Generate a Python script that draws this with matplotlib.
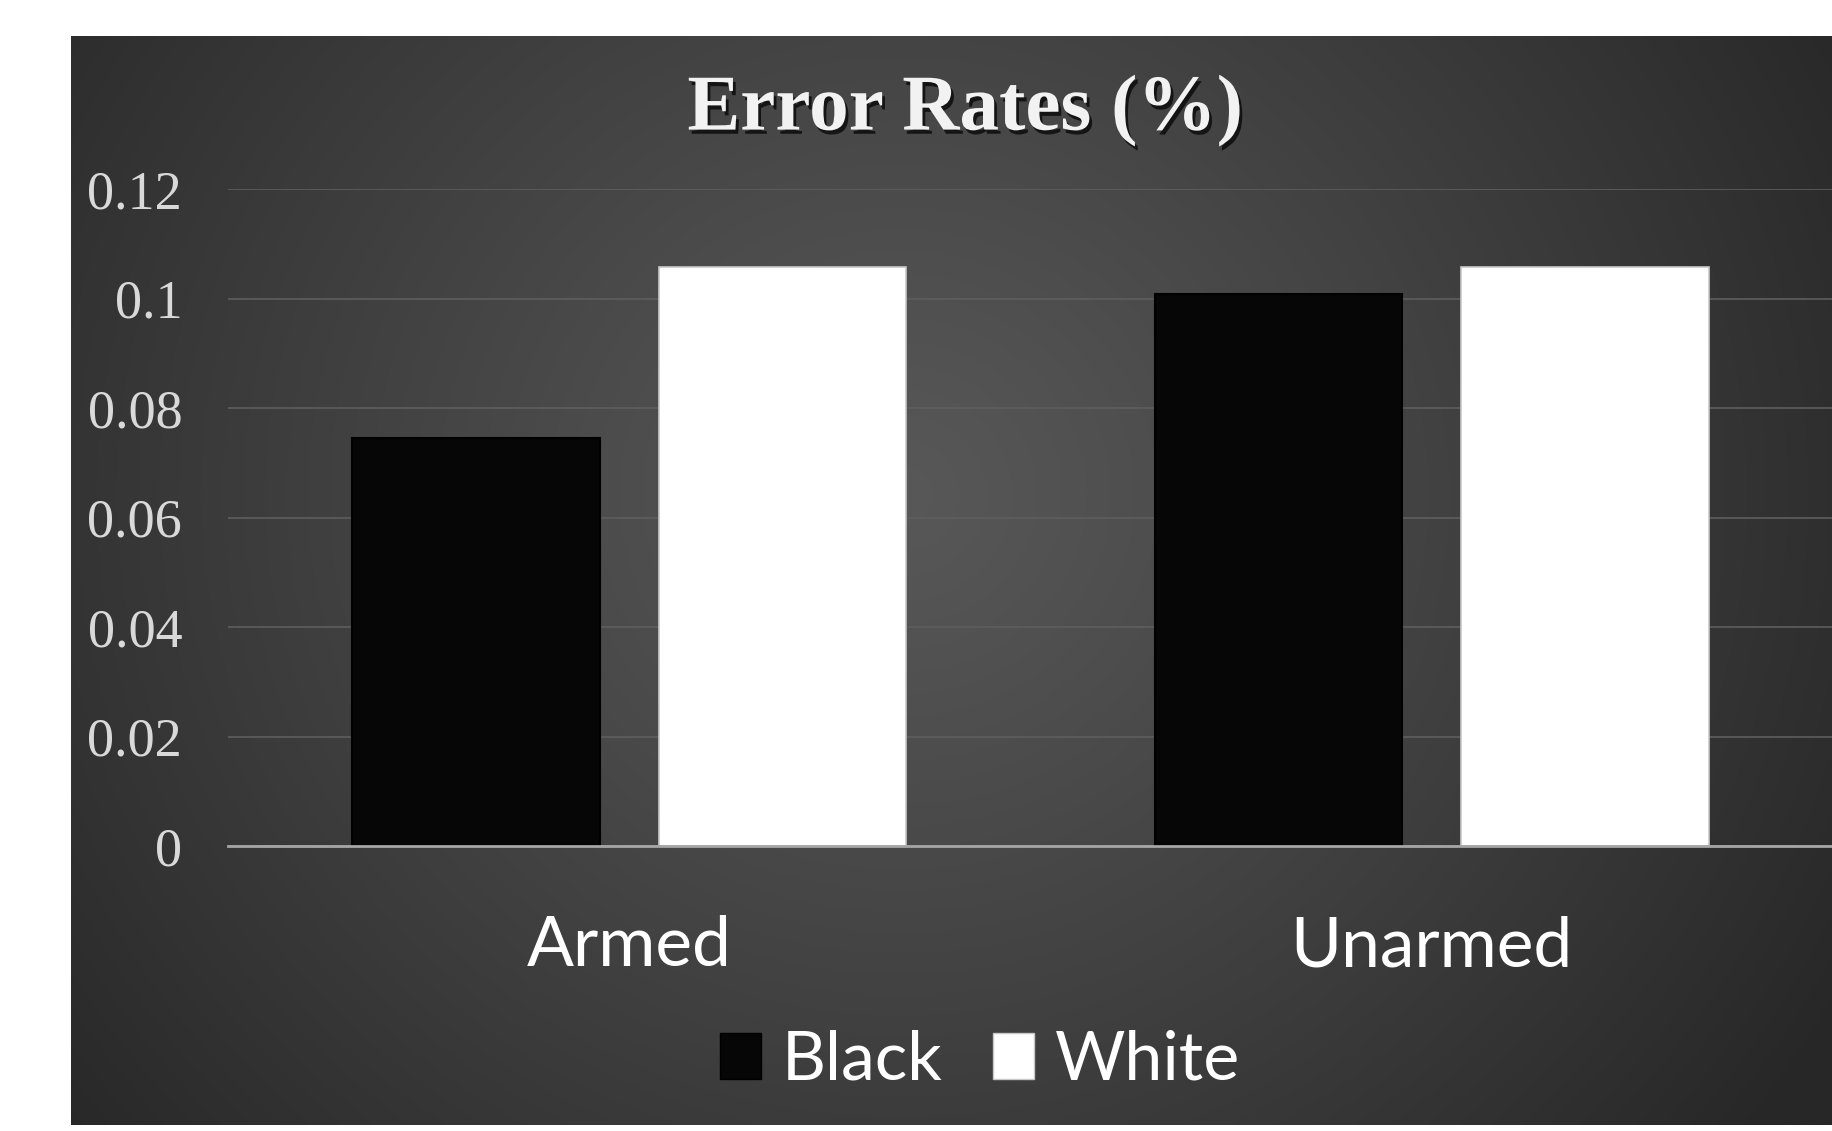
import numpy as np
import matplotlib
matplotlib.use("Agg")
import matplotlib.pyplot as plt
import matplotlib.patheffects as pe
from matplotlib.patches import Patch

# ---- data ----
categories = ["Armed", "Unarmed"]
series_names = ["Black", "White"]
black_values = [0.0745, 0.1008]
white_values = [0.1057, 0.1057]
yticks = [0, 0.02, 0.04, 0.06, 0.08, 0.1, 0.12]
ytick_labels = ["0", "0.02", "0.04", "0.06", "0.08", "0.1", "0.12"]
title = "Error Rates (%)"

W, H = 1832, 1131
fig = plt.figure(figsize=(W / 100, H / 100), dpi=100)
fig.patch.set_facecolor("white")

# ---- dark radial-gradient background panel ----
bx0, by0, bx1, by1 = 71, 36, 1832, 1125  # pixel box (top-origin)
bg = fig.add_axes([bx0 / W, (H - by1) / H, (bx1 - bx0) / W, (by1 - by0) / H])
bg.set_axis_off()
ny, nx = 300, 500
yy, xx = np.mgrid[0:ny, 0:nx]
cx, cy = nx * 0.47, ny * 0.42
d = np.sqrt(((xx - cx) / (nx * 0.62)) ** 2 + ((yy - cy) / (ny * 0.95)) ** 2)
d = np.clip(d, 0, 1)
val = (0x58 - (0x58 - 0x27) * d ** 1.1) / 255.0
img = np.dstack([val, val, val])
bg.imshow(img, aspect="auto", extent=[0, 1, 0, 1], origin="upper", interpolation="bicubic")
bg.set_xlim(0, 1)
bg.set_ylim(0, 1)

# ---- main axes ----
ax_left, ax_right = 228, 1833
ax_top, ax_bot = 189, 846
ax = fig.add_axes([ax_left / W, (H - ax_bot) / H, (ax_right - ax_left) / W, (ax_bot - ax_top) / H])
ax.set_facecolor("none")

x = np.arange(len(categories))
bw = 0.308
off = 0.191
ax.bar(x - off, black_values, width=bw, color="#060606", edgecolor="#000000", linewidth=1.5, zorder=3)
ax.bar(x + off, white_values, width=bw, color="#ffffff", edgecolor="#c8c8c8", linewidth=1.2, zorder=3)

ax.set_xlim(-0.5, 1.5)
ax.set_ylim(0, 0.12)
ax.set_yticks(yticks)
ax.set_yticklabels(ytick_labels, family="Liberation Serif", fontsize=39, color="#d9d9d9")
ax.tick_params(axis="y", length=0, pad=33)
ax.set_xticks(x)
ax.set_xticklabels(categories, family="Lato", fontsize=50, color="white")
ax.tick_params(axis="x", length=0, pad=50)
ax.yaxis.grid(True, color="#5e5e5e", linewidth=1.2, zorder=0)
ax.set_axisbelow(True)
for s in ["top", "right", "left"]:
    ax.spines[s].set_visible(False)
ax.spines["bottom"].set_color("#a6a6a6")
ax.spines["bottom"].set_linewidth(2)
ax.spines["bottom"].set_zorder(4)

# ---- title ----
fig.text(965 / W, (H - 111) / H, title, ha="center", va="center",
         family="Liberation Serif", fontweight="bold", fontsize=57, color="#f2f2f2",
         path_effects=[pe.withSimplePatchShadow(offset=(2, -3), shadow_rgbFace="black", alpha=0.7)])

# ---- legend ----
handles = [Patch(facecolor="#060606", edgecolor="#000000"),
           Patch(facecolor="#ffffff", edgecolor="#c8c8c8")]
leg = fig.legend(handles, series_names, loc="center", bbox_to_anchor=(980 / W, (H - 1061) / H),
                 ncol=2, frameon=False, prop={"family": "Lato", "size": 49},
                 handlelength=0.6, handleheight=0.65, handletextpad=0.3, columnspacing=0.75)
for t in leg.get_texts():
    t.set_color("white")

fig.savefig("out.png", dpi=100, facecolor=fig.get_facecolor())
